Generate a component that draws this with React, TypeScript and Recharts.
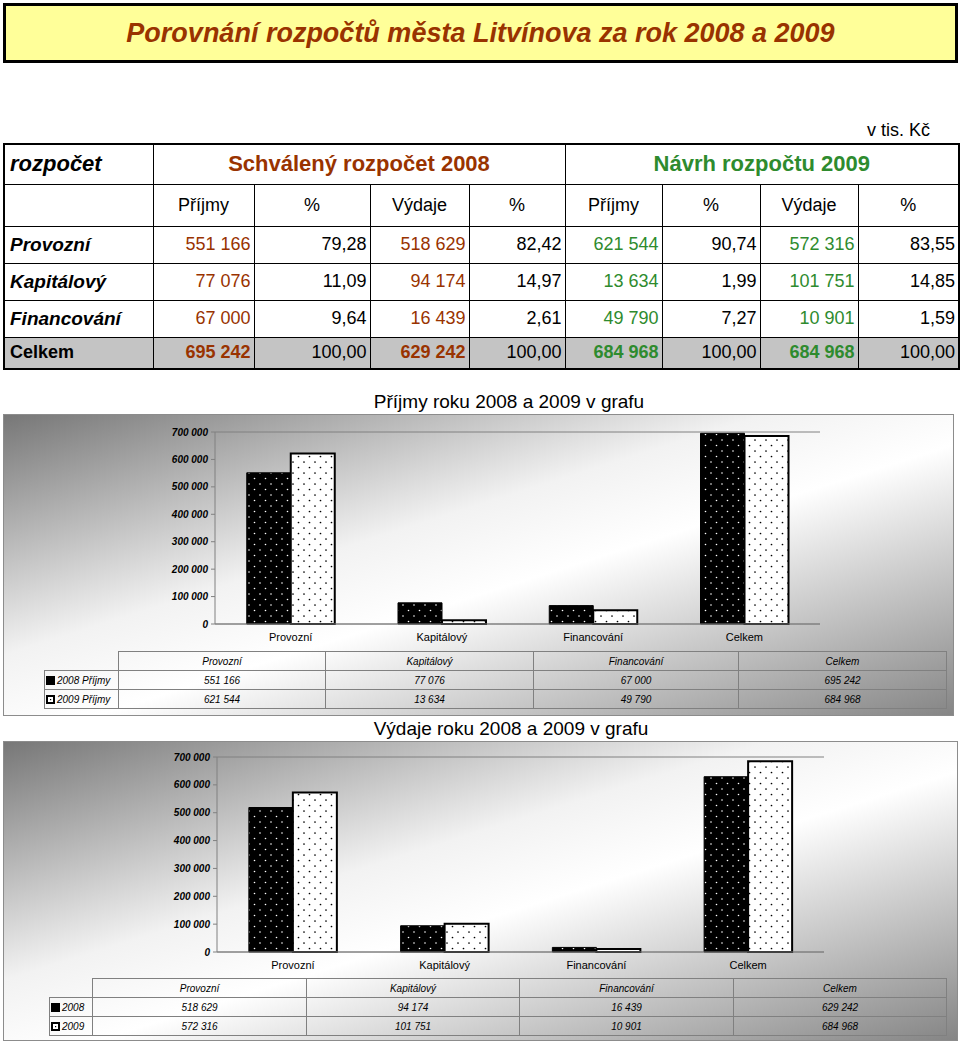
import React from 'react';
import { BarChart, Bar, XAxis, YAxis, CartesianGrid } from 'recharts';

const categories = ['Provozní', 'Kapitálový', 'Financování', 'Celkem'];
const prijmy2008 = [551166, 77076, 67000, 695242];
const prijmy2009 = [621544, 13634, 49790, 684968];
const vydaje2008 = [518629, 94174, 16439, 629242];
const vydaje2009 = [572316, 101751, 10901, 684968];
const prijmy2008Pct = ['79,28', '11,09', '9,64', '100,00'];
const vydaje2008Pct = ['82,42', '14,97', '2,61', '100,00'];
const prijmy2009Pct = ['90,74', '1,99', '7,27', '100,00'];
const vydaje2009Pct = ['83,55', '14,85', '1,59', '100,00'];
const yTicks = [0, 100000, 200000, 300000, 400000, 500000, 600000, 700000];

const FONT = '"Liberation Sans", Arial, sans-serif';
const BROWN = '#993300';
const GREEN = '#2e8b2e';

const fmt = (v: number) => String(v).replace(/\B(?=(\d{3})+(?!\d))/g, ' ');

function Key2008() {
  return (
    <svg width={9} height={9} style={{ verticalAlign: 'middle', marginRight: 2 }}>
      <rect x={0} y={0} width={9} height={9} fill="#000" />
    </svg>
  );
}
function Key2009() {
  return (
    <svg width={9} height={9} style={{ verticalAlign: 'middle', marginRight: 2 }}>
      <rect x={0} y={0} width={9} height={9} fill="#000" />
      <rect x={2} y={2} width={5} height={5} fill="#fff" />
      <rect x={4} y={4} width={1.2} height={1.2} fill="#000" />
    </svg>
  );
}

type ChartProps = {
  id: string;
  title: string;
  titleTop: number;
  titleCenter: number;
  frameLeft: number;
  frameTop: number;
  frameWidth: number;
  frameHeight: number;
  plotLeft: number;
  plotTop: number;
  plotHeight: number;
  rightMargin: number;
  a: number[];
  b: number[];
  nameA: string;
  nameB: string;
  tableLeft: number;
  colWidths: number[];
};

function PatternChart(p: ChartProps) {
  const data = categories.map((c, i) => ({ cat: c, a: p.a[i], b: p.b[i] }));
  const innerW = p.frameWidth - 2;
  const chartH = p.plotTop + p.plotHeight + 24;
  const cell: React.CSSProperties = {
    border: '1px solid #808080',
    height: 18,
    padding: 0,
    fontSize: 10,
    fontStyle: 'italic',
    textAlign: 'center',
    whiteSpace: 'nowrap',
  };
  return (
    <>
      <div
        style={{
          position: 'absolute',
          left: p.titleCenter - 250,
          width: 500,
          top: p.titleTop,
          textAlign: 'center',
          fontSize: 19,
          lineHeight: '22px',
          color: '#000',
        }}
      >
        {p.title}
      </div>
      <div
        style={{
          position: 'absolute',
          left: p.frameLeft,
          top: p.frameTop,
          width: p.frameWidth,
          height: p.frameHeight,
          boxSizing: 'border-box',
          border: '1px solid #8c8c8c',
          background:
            'linear-gradient(to bottom right, #777777 0%, #f2f2f2 40%, #ffffff 55%, #858585 100%)',
        }}
      >
        <div style={{ position: 'absolute', left: 0, top: 0 }}>
          <BarChart
            width={innerW}
            height={chartH}
            data={data}
            margin={{ top: p.plotTop, right: p.rightMargin, left: 0, bottom: 0 }}
            barCategoryGap="21%"
            barGap={0}
          >
            <defs>
              <pattern id={p.id + 'A'} width={11} height={11} patternUnits="userSpaceOnUse">
                <rect x={0} y={0} width={11} height={11} fill="#000" />
                <circle cx={3} cy={3} r={0.8} fill="#fff" />
                <circle cx={8.5} cy={8.5} r={0.8} fill="#fff" />
              </pattern>
              <pattern id={p.id + 'B'} width={11} height={11} patternUnits="userSpaceOnUse">
                <rect x={0} y={0} width={11} height={11} fill="#fff" />
                <circle cx={3} cy={3} r={0.85} fill="#000" />
                <circle cx={8.5} cy={8.5} r={0.85} fill="#000" />
              </pattern>
            </defs>
            <CartesianGrid vertical={false} stroke="#808080" />
            <XAxis
              dataKey="cat"
              height={24}
              tickLine={false}
              tickMargin={3}
              axisLine={{ stroke: '#808080' }}
              tick={{ fill: '#000', fontSize: 11, fontFamily: FONT }}
            />
            <YAxis
              yAxisId="l"
              width={p.plotLeft}
              domain={[0, 700000]}
              ticks={yTicks}
              interval={0}
              tickSize={4}
              tickMargin={3}
              tickFormatter={fmt}
              axisLine={{ stroke: '#808080' }}
              tickLine={{ stroke: '#808080' }}
              tick={{ fill: '#000', fontSize: 10, fontWeight: 'bold', fontStyle: 'italic', fontFamily: FONT }}
            />
            <YAxis
              yAxisId="r"
              orientation="right"
              width={0}
              domain={[0, 700000]}
              ticks={yTicks}
              tick={false}
              tickLine={false}
              axisLine={{ stroke: '#808080' }}
            />
            <Bar yAxisId="l" dataKey="a" name={p.nameA} fill={`url(#${p.id}A)`} stroke="#000" strokeWidth={1} isAnimationActive={false} />
            <Bar yAxisId="l" dataKey="b" name={p.nameB} fill={`url(#${p.id}B)`} stroke="#000" strokeWidth={2} isAnimationActive={false} />
          </BarChart>
        </div>
        <table
          style={{
            position: 'absolute',
            left: p.tableLeft,
            top: 236,
            borderCollapse: 'collapse',
            tableLayout: 'fixed',
            fontFamily: FONT,
            color: '#000',
          }}
        >
          <colgroup>
            {p.colWidths.map((w, i) => (
              <col key={i} style={{ width: w }} />
            ))}
          </colgroup>
          <tbody>
            <tr>
              <td style={{ ...cell, border: 'none' }} />
              {categories.map((c) => (
                <td key={c} style={cell}>{c}</td>
              ))}
            </tr>
            <tr>
              <td style={{ ...cell, textAlign: 'left', paddingLeft: 1 }}>
                <Key2008 />
                {p.nameA}
              </td>
              {p.a.map((v, i) => (
                <td key={i} style={cell}>{fmt(v)}</td>
              ))}
            </tr>
            <tr>
              <td style={{ ...cell, textAlign: 'left', paddingLeft: 1 }}>
                <Key2009 />
                {p.nameB}
              </td>
              {p.b.map((v, i) => (
                <td key={i} style={cell}>{fmt(v)}</td>
              ))}
            </tr>
          </tbody>
        </table>
      </div>
    </>
  );
}

function MainTable() {
  const colW = [149, 101, 116, 99, 96, 97, 98, 98, 101];
  const b = '1px solid #000';
  const base: React.CSSProperties = {
    border: b,
    padding: '0 3px',
    fontSize: 18,
    whiteSpace: 'nowrap',
  };
  const label: React.CSSProperties = {
    ...base,
    fontStyle: 'italic',
    fontWeight: 'bold',
    textAlign: 'left',
    fontSize: 19,
    paddingLeft: 5,
  };
  const num = (color: string, bold = false): React.CSSProperties => ({
    ...base,
    textAlign: 'right',
    color,
    fontWeight: bold ? 'bold' : 'normal',
  });
  const rowH = [40, 42, 37, 37, 37, 32];
  const rows = categories.map((c, i) => ({
    c,
    v: [
      fmt(prijmy2008[i]),
      prijmy2008Pct[i],
      fmt(vydaje2008[i]),
      vydaje2008Pct[i],
      fmt(prijmy2009[i]),
      prijmy2009Pct[i],
      fmt(vydaje2009[i]),
      vydaje2009Pct[i],
    ],
  }));
  const colColor = [BROWN, '#000', BROWN, '#000', GREEN, '#000', GREEN, '#000'];
  const sub = ['Příjmy', '%', 'Výdaje', '%', 'Příjmy', '%', 'Výdaje', '%'];
  return (
    <table
      style={{
        position: 'absolute',
        left: 3,
        top: 143,
        borderCollapse: 'collapse',
        tableLayout: 'fixed',
        border: '2px solid #000',
        fontFamily: FONT,
        color: '#000',
      }}
    >
      <colgroup>
        {colW.map((w, i) => (
          <col key={i} style={{ width: w }} />
        ))}
      </colgroup>
      <tbody>
        <tr style={{ height: rowH[0] }}>
          <td style={{ ...label, fontSize: 22 }}>rozpočet</td>
          <td colSpan={4} style={{ ...base, textAlign: 'center', color: BROWN, fontWeight: 'bold', fontSize: 22 }}>
            Schválený rozpočet 2008
          </td>
          <td colSpan={4} style={{ ...base, textAlign: 'center', color: GREEN, fontWeight: 'bold', fontSize: 22 }}>
            Návrh rozpočtu 2009
          </td>
        </tr>
        <tr style={{ height: rowH[1] }}>
          <td style={base} />
          {sub.map((s, i) => (
            <td key={i} style={{ ...base, textAlign: 'center' }}>{s}</td>
          ))}
        </tr>
        {rows.map((r, ri) => {
          const total = ri === 3;
          return (
            <tr key={r.c} style={{ height: rowH[2 + ri], background: total ? '#c4c4c4' : 'transparent' }}>
              <td style={total ? { ...base, fontWeight: 'bold', textAlign: 'left', paddingLeft: 5 } : label}>{r.c}</td>
              {r.v.map((v, i) => (
                <td key={i} style={num(colColor[i], total && colColor[i] !== '#000')}>{v}</td>
              ))}
            </tr>
          );
        })}
      </tbody>
    </table>
  );
}

export default function App() {
  return (
    <div
      style={{
        position: 'absolute',
        left: 0,
        top: 0,
        width: 960,
        height: 1045,
        background: '#fff',
        fontFamily: FONT,
        overflow: 'hidden',
      }}
    >
      <div
        style={{
          position: 'absolute',
          left: 3,
          top: 3,
          width: 955,
          height: 60,
          boxSizing: 'border-box',
          border: '3px solid #000',
          background: '#ffff99',
          textAlign: 'center',
          lineHeight: '54px',
          fontSize: 27,
          fontWeight: 'bold',
          fontStyle: 'italic',
          color: BROWN,
        }}
      >
        Porovnání rozpočtů města Litvínova za rok 2008 a 2009
      </div>
      <div style={{ position: 'absolute', left: 830, width: 100, top: 119, textAlign: 'right', fontSize: 18, lineHeight: '22px' }}>
        v tis. Kč
      </div>
      <MainTable />
      <PatternChart
        id="prijmy"
        title="Příjmy roku 2008 a 2009 v grafu"
        titleTop={391}
        titleCenter={509}
        frameLeft={3}
        frameTop={414}
        frameWidth={951}
        frameHeight={302}
        plotLeft={211}
        plotTop={17}
        plotHeight={192}
        rightMargin={133}
        a={prijmy2008}
        b={prijmy2009}
        nameA="2008 Příjmy"
        nameB="2009 Příjmy"
        tableLeft={40}
        colWidths={[74, 207, 208, 205, 208]}
      />
      <PatternChart
        id="vydaje"
        title="Výdaje roku 2008 a 2009 v grafu"
        titleTop={718}
        titleCenter={511}
        frameLeft={3}
        frameTop={741}
        frameWidth={955}
        frameHeight={300}
        plotLeft={213}
        plotTop={15}
        plotHeight={195}
        rightMargin={133}
        a={vydaje2008}
        b={vydaje2009}
        nameA="2008"
        nameB="2009"
        tableLeft={45}
        colWidths={[43, 214, 213, 214, 213]}
      />
    </div>
  );
}
